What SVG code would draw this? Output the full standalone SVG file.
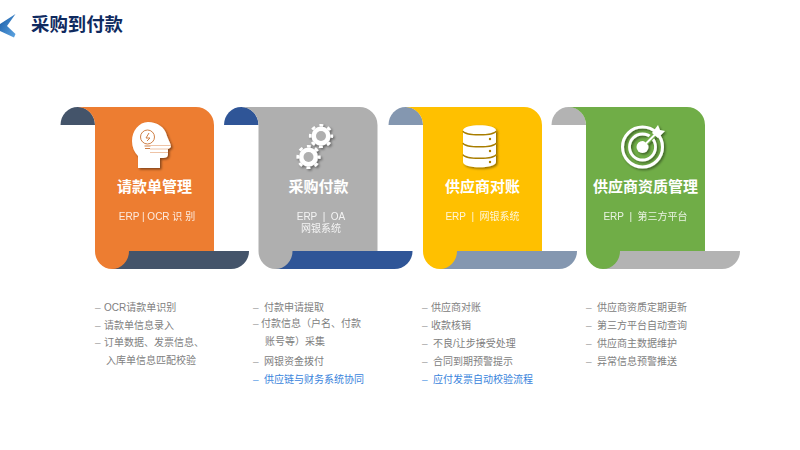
<svg xmlns="http://www.w3.org/2000/svg" width="800" height="450" viewBox="0 0 800 450">
<style>
text{font-family:"Liberation Sans","Noto Sans CJK SC",sans-serif;white-space:pre}
.ttl{font-size:18.4px;font-weight:700;fill:#0f2a5f}
.h{font-size:15px;font-weight:700;fill:#fff;text-anchor:middle}
.s{font-size:10px;fill:#fff;text-anchor:middle;opacity:.85}
.l{font-size:10px;fill:#808080}
.d{fill:#a8a8a8}
.b{fill:#3a84dc}
.b .d{fill:#6aa5e8}
.ic{filter:url(#sh)}
</style>
<defs>
<linearGradient id="lg" x1="0" y1="0" x2="1" y2="1"><stop offset="0" stop-color="#175aa6"/><stop offset="1" stop-color="#5fa6e2"/></linearGradient>
<filter id="sh" x="-20%" y="-20%" width="150%" height="150%"><feDropShadow dx="1.500" dy="1.500" stdDeviation="1" flood-color="#000" flood-opacity=".45"/></filter>
<path id="tab" d="M-34.500 18A17.250 18 0 0 1 0 18Z"/>
<path id="band" d="M17 144H154A18 18 0 0 1 136 162H17Z"/>
<path id="body" d="M-17 0H101A18 18 0 0 1 119 18V144H34A17 18 0 0 1 0 144V18A17.500 18 0 0 0 -17 0Z"/>
<g id="gear"><circle r="9.500" fill="#fff"/><circle r="10.800" fill="none" stroke="#fff" stroke-width="2.600" stroke-dasharray="3.800 4.680" stroke-dashoffset="1.900"/></g>
</defs>
<g id="logo"><path fill="url(#lg)" d="M15.500 14L0 24V31L14 37.500L15.500 34L7 26Z"/></g>
<text class="ttl" x="31" y="31">采购到付款</text>

<g id="n1" transform="translate(95,107)">
<use href="#tab" fill="#44546a"/>
<use href="#band" fill="#44546a"/>
<use href="#body" fill="#ed7d31"/>
<g class="ic" transform="translate(-95,-107)">
<path fill="#fff" d="M148 122C157 122 165 127 167 136C168 139 170 142 171 146C171 148 169 148 168 149V154C168 158 165 158 160 158V168H138V156C134 152 132 147 132 141C132 131 139 122 148 122Z"/>
<g fill="none" stroke="#cf7f45"><circle cx="147.500" cy="137" r="7"/><path d="M144.500 146H150.500M145 148.500H150"/><path d="M149 133L146 138H150L147 141"/></g>
<path fill="none" stroke="#eec3a6" d="M150 145.500H171M150 149H168M150 152.500H168"/>
</g>
<text class="h" x="59.500" y="85">请款单管理</text>
<text class="s" x="62" y="113">ERP | OCR 识 别</text>
</g>

<g id="n2" transform="translate(258.500,107)">
<use href="#tab" fill="#2f5597"/>
<use href="#band" fill="#2f5597"/>
<use href="#body" fill="#afafaf"/>
<g class="ic" transform="translate(-258.500,-107)">
<use href="#gear" transform="translate(321,136)"/><circle cx="321" cy="136" r="5" fill="#afafaf"/>
<use href="#gear" transform="translate(308.500,157)"/><circle cx="308.500" cy="157" r="5" fill="#afafaf"/>
</g>
<text class="h" x="60" y="85">采购付款</text>
<text class="s" x="62.500" y="113">ERP  |  OA</text>
<text class="s" x="62.500" y="125">网银系统</text>
</g>

<g id="n3" transform="translate(423,107)">
<use href="#tab" fill="#8497b0"/>
<use href="#band" fill="#8497b0"/>
<use href="#body" fill="#ffc000"/>
<g class="ic" transform="translate(-423,-107)">
<path fill="#fff" d="M463 130.500C463 123.500 496 123.500 496 130.500V162C496 169 463 169 463 162Z"/>
<g fill="none" stroke="#a87d00" stroke-width="1.300"><path d="M463 131C464 136 495 136 496 131"/><path d="M463 143C464 148 495 148 496 143"/><path d="M463 154.500C464 159.500 495 159.500 496 154.500"/></g>
<g fill="#a87d00"><circle cx="490" cy="139" r="1.200"/><circle cx="490" cy="151" r="1.200"/><circle cx="490" cy="162" r="1.200"/></g>
</g>
<text class="h" x="59.500" y="85">供应商对账</text>
<text class="s" x="59.500" y="113">ERP  |  网银系统</text>
</g>

<g id="n4" transform="translate(586,107)">
<use href="#tab" fill="#b3b3b3"/>
<use href="#band" fill="#b3b3b3"/>
<use href="#body" fill="#70ad47"/>
<g class="ic" transform="translate(-586,-107)">
<g fill="none" stroke="#fff"><circle cx="642.500" cy="147" r="20" stroke-width="3"/><circle cx="642.500" cy="147" r="13" stroke-width="2.800"/></g>
<circle cx="642.500" cy="147" r="6" fill="#fff"/>
<path fill="none" stroke="#70ad47" stroke-width="5" d="M646 143L656 133"/>
<path fill="none" stroke="#fff" stroke-width="2" d="M642.500 147L657 132.500"/>
<path fill="#fff" d="M652 133L658 125 660 130 665 131 658 138Z"/>
</g>
<text class="h" x="59.500" y="85">供应商资质管理</text>
<text class="s" x="59.500" y="113">ERP  |  第三方平台</text>
</g>

<g id="list1" class="l">
<text class="l" y="311"><tspan class="d" x="95">–</tspan><tspan x="104">OCR请款单识别</tspan></text>
<text class="l" y="329"><tspan class="d" x="95">–</tspan><tspan x="104">请款单信息录入</tspan></text>
<text class="l" y="346"><tspan class="d" x="95">–</tspan><tspan x="104">订单数据、发票信息、</tspan></text>
<text class="l" x="106" y="364">入库单信息匹配校验</text>
</g>
<g id="list2">
<text class="l" y="311"><tspan class="d" x="253">–</tspan><tspan x="264">付款申请提取</tspan></text>
<text class="l" y="327"><tspan class="d" x="253">–</tspan><tspan x="261">付款信息（户名、付款</tspan></text>
<text class="l" x="265" y="345">账号等）采集</text>
<text class="l" y="365"><tspan class="d" x="253">–</tspan><tspan x="264">网银资金拨付</tspan></text>
<text class="l b" y="383"><tspan class="d" x="253">–</tspan><tspan x="264">供应链与财务系统协同</tspan></text>
</g>
<g id="list3">
<text class="l" y="311"><tspan class="d" x="422">–</tspan><tspan x="431">供应商对账</tspan></text>
<text class="l" y="329"><tspan class="d" x="422">–</tspan><tspan x="431">收款核销</tspan></text>
<text class="l" y="347"><tspan class="d" x="422">–</tspan><tspan x="433">不良/让步接受处理</tspan></text>
<text class="l" y="365"><tspan class="d" x="422">–</tspan><tspan x="433">合同到期预警提示</tspan></text>
<text class="l b" y="383"><tspan class="d" x="422">–</tspan><tspan x="433">应付发票自动校验流程</tspan></text>
</g>
<g id="list4">
<text class="l" y="311"><tspan class="d" x="586">–</tspan><tspan x="597">供应商资质定期更新</tspan></text>
<text class="l" y="329"><tspan class="d" x="586">–</tspan><tspan x="597">第三方平台自动查询</tspan></text>
<text class="l" y="347"><tspan class="d" x="586">–</tspan><tspan x="597">供应商主数据维护</tspan></text>
<text class="l" y="365"><tspan class="d" x="586">–</tspan><tspan x="597">异常信息预警推送</tspan></text>
</g>
</svg>
